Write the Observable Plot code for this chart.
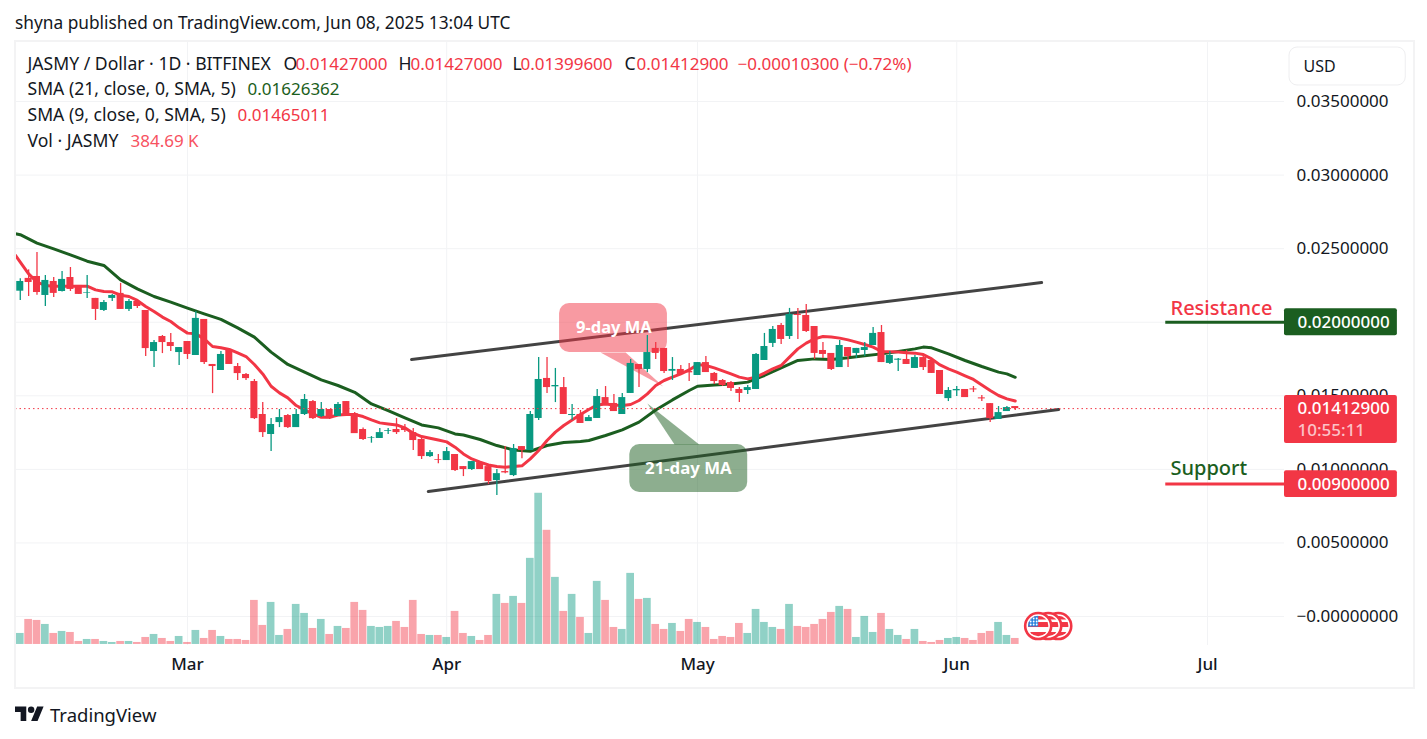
<!DOCTYPE html>
<html>
<head>
<meta charset="utf-8">
<script src="https://cdn.jsdelivr.net/npm/d3@7"></script>
<script src="https://cdn.jsdelivr.net/npm/@observablehq/plot@0.6"></script>
<style>
html,body{margin:0;padding:0;background:#fff;overflow:hidden;width:1427px;height:739px}
body{position:relative;font-family:"Noto Sans",sans-serif;color:#131722}
#head{height:41px;line-height:45px;padding-left:15px;font-size:17.3px;box-sizing:border-box;white-space:nowrap}
#chart{height:645px}
#frame{position:absolute;left:14px;top:40px;width:1397px;height:645px;border:2px solid #f3f3f4;pointer-events:none}
#foot{position:absolute;left:15px;top:700px;height:28px;display:flex;align-items:center}
#foot span{font-size:18.5px;margin-left:6px;margin-top:0}
</style>
</head>
<body>
<div id="head">shyna published on TradingView.com, Jun 08, 2025 13:04 UTC</div>
<div id="chart"></div>
<div id="frame"></div>
<div id="foot"><svg width="29" height="23" viewBox="0 0 36 28"><path fill="#131722" d="M14 22H7V11H0V4h14v18zM28 22h-8l7.5-18h8L28 22z"/><circle fill="#131722" cx="20" cy="8" r="4"/></svg><span>TradingView</span></div>
<script>
// Daily bars, first bar is 2025-02-09 (20 days before 1 March), last is 2025-06-08
const open=[.02211,.02298,.02311,.02182,.02277,.02209,.02304,.0225,.02198,.02162,.0208,.02162,.02196,.02087,.02141,.0208,.01801,.01903,.01862,.01794,.01869,.01774,.02019,.01713,.01672,.01808,.01699,.01645,.01597,.01373,.01237,.01318,.01366,.01284,.01373,.01461,.01359,.01407,.01359,.01461,.01379,.01271,.01212,.0121,.01259,.01271,.01278,.0125,.01203,.01087,.01067,.0106,.01101,.01019,.00999,.01046,.01019,.00924,.00985,.00958,.01155,.01128,.01346,.01618,.01561,.01556,.01366,.01373,.01325,.01346,.01488,.01448,.01373,.01516,.01713,.01679,.01822,.01822,.01667,.01679,.01665,.01638,.01726,.01652,.01604,.0159,.01543,.01536,.01543,.0174,.01856,.01978,.01903,.02053,.02046,.01971,.01808,.01788,.01692,.01828,.01788,.01808,.01842,.0193,.0172,.01742,.01747,.01686,.0176,.0174,.01672,.01481,.01534,.01543,.01547,.01486,.01447,.01339,.01393,.01427];
const high=[.02295,.02356,.02474,.02318,.02304,.02345,.02372,.0225,.02318,.02162,.02148,.02189,.02264,.02155,.02155,.0208,.01876,.0191,.01923,.01828,.01869,.02073,.02019,.01713,.01801,.01808,.01719,.01651,.01611,.01454,.01345,.01407,.01373,.01407,.01509,.01468,.01454,.01407,.01454,.01461,.01386,.01282,.01223,.01278,.01278,.01346,.01305,.01278,.0121,.01128,.01101,.01148,.01101,.01019,.01053,.01046,.01019,.00999,.01155,.01169,.01155,.01393,.0176,.0176,.01686,.01624,.01441,.014,.01366,.01543,.01563,.01509,.01516,.01747,.01713,.0191,.01862,.01822,.0176,.01706,.0172,.01726,.01767,.01658,.01611,.01597,.01556,.0157,.01788,.01924,.01971,.01992,.02094,.02094,.02121,.01971,.01862,.01788,.01876,.01828,.01822,.01862,.01964,.01978,.01801,.01754,.01808,.01774,.01774,.01747,.01672,.01556,.01563,.01543,.01563,.01502,.01447,.01427,.01427,.01427];
const low=[.02148,.02175,.02184,.02107,.02168,.02205,.02209,.02189,.02162,.02012,.02073,.02141,.02087,.02073,.02094,.01767,.01692,.01787,.01801,.01706,.01747,.01774,.01713,.01515,.01672,.01713,.01604,.01604,.01339,.01216,.01121,.01284,.01277,.01284,.01366,.01339,.01352,.01339,.01359,.01373,.01243,.01196,.01178,.0121,.01237,.01237,.0125,.01128,.01067,.0108,.01039,.0106,.00985,.00951,.00992,.00999,.00897,.00822,.00971,.00951,.01073,.01128,.01332,.01516,.01454,.01373,.01332,.01312,.01325,.01346,.01434,.01393,.01373,.01516,.01556,.01658,.01747,.01652,.01604,.01638,.01597,.01638,.01658,.01577,.01563,.01529,.01454,.01509,.01543,.0174,.01828,.01849,.01883,.01883,.0193,.01747,.01754,.01672,.01692,.01692,.01754,.01767,.01842,.01726,.01713,.01665,.01713,.01686,.01672,.01652,.01509,.01461,.01495,.01488,.01522,.01461,.01318,.01339,.01393,.013996];
const close=[.02277,.0227,.02202,.02284,.02196,.02291,.02223,.02189,.02202,.02087,.02134,.02182,.02087,.02141,.02107,.01821,.01862,.01862,.01835,.01828,.01781,.02026,.01726,.01699,.01781,.01713,.01651,.01617,.01345,.0125,.01305,.01352,.01284,.01373,.01475,.01345,.01407,.01345,.01441,.01373,.01243,.01203,.01216,.0125,.01264,.0125,.01264,.01196,.01087,.01114,.01062,.01121,.00992,.00999,.01053,.00999,.00917,.00971,.00976,.01141,.01128,.01373,.01611,.01556,.0157,.01373,.01373,.01312,.01352,.01495,.01434,.01393,.01488,.0172,.01679,.01794,.01788,.01665,.01679,.01645,.01656,.01726,.01658,.01597,.0157,.0155,.01516,.01556,.01781,.01835,.01951,.01883,.02053,.02046,.01937,.01788,.01781,.01679,.01842,.01767,.01822,.01828,.01924,.01726,.01774,.01749,.01713,.0176,.01692,.01652,.01509,.01536,.01543,.01488,.0154,.01479,.01345,.01386,.0142,.014129];
const volumeK=[706,1605,1541,1284,706,835,770,192,321,321,192,128,192,192,128,449,642,385,192,513,128,899,385,899,513,321,321,256,2825,1220,2696,578,963,2568,1990,1027,1605,642,1156,1027,2696,2183,1156,1091,1156,1477,1091,2825,642,578,578,449,2119,706,513,256,578,3210,2632,3082,2632,5521,9694,7319,4301,2119,3210,1733,706,4045,2825,1091,963,4558,2889,2953,1284,963,1348,835,1605,1412,1091,321,513,449,1348,706,2247,1412,1091,963,2568,1156,1091,1284,1605,2054,2440,2247,449,1798,770,1990,963,578,321,963,192,128,256,385,449,385,256,706,835,1412,578,385];

// Moving averages: bar number and value
const sma21Bars=[-0.5,0,2,4,6,8,10,12,14,16,18,20,22,24,26,28,30,32,34,36,38,40,42,44,46,48,50,52,53,55,57,59,61,63,65,67,68,70,72,74,76,78,80,81,83,85,87,89,91,93,95,97,99,101,103,105,107,108,109,111,113,115,117,118,119];
const sma21Values=[.02601,.02595,.02538,.02499,.02458,.02415,.02386,.02288,.02227,.02175,.02137,.02096,.02057,.02019,.01962,.01899,.01797,.01713,.01661,.01608,.0157,.01524,.01445,.014,.0135,.01302,.01282,.01241,.01234,.01203,.01162,.01132,.01123,.01162,.01182,.01189,.01196,.0123,.01268,.01321,.01404,.01472,.01536,.01565,.01574,.01581,.01593,.01638,.0169,.0174,.01751,.01747,.01758,.01772,.01785,.01801,.01819,.01831,.01826,.01785,.0174,.01699,.01661,.01649,.01626];
const sma9Bars=[-0.5,0,1,2,3,4,6,8,9,10,11,12,13,14,15,16,17,18,19,20,21,22,23,24,25,26,27,28,29,30,31,32,33,34,35,36,37,38,39,40,41,42,43,44,45,46,47,48,49,50,51,52,53,54,55,56,57,58,59,60,61,62,63,64,65,66,67,68,69,70,71,72,73,74,75,76,77,78,79,80,81,82,83,84,85,86,87,88,89,90,91,92,93,94,95,96,97,98,99,100,101,102,103,104,105,106,107,108,109,110,111,112,113,114,115,116,117,118,119];
const sma9Values=[.02454,.02409,.02329,.02273,.0225,.02245,.02245,.02245,.0222,.02209,.02207,.02184,.02175,.02148,.02107,.02073,.02035,.02005,.01962,.01926,.01921,.01887,.01835,.01826,.01815,.01792,.01767,.01713,.01649,.01565,.0152,.01486,.01434,.01404,.01377,.01354,.01354,.0137,.01373,.01373,.01359,.01336,.01316,.01309,.01302,.01282,.01246,.01223,.01212,.012,.01187,.01151,.01105,.01071,.01049,.0103,.01019,.01015,.01019,.01024,.01071,.01128,.01196,.01253,.01298,.01336,.01373,.01407,.01438,.01445,.01438,.01434,.01441,.01468,.01513,.0157,.01604,.01627,.01649,.01676,.01713,.01706,.0169,.0167,.01649,.01627,.01615,.01627,.01654,.01683,.01706,.01763,.01819,.01858,.01887,.01903,.01899,.01892,.0188,.01865,.01849,.01831,.01801,.01799,.01797,.01792,.0179,.01781,.01751,.0171,.01683,.01661,.01636,.01611,.01574,.01536,.01502,.01479,.01465];

// Trend channel drawn on the chart: day after 1 March and price
const trendLines=[
  {days:[26.8,102.15],prices:[.01747,.0227]},
  {days:[28.8,104.2],prices:[.0085,.01407]}
];
const resistance=.02, support=.009, lastPrice=.014129;
const priceTicks=[0,.005,.01,.015,.02,.025,.03,.035];
const monthTicks=["2025-03-01","2025-04-01","2025-05-01","2025-06-01","2025-07-01"];

const RED="#F23645", GREEN="#089981", DARKGREEN="#1B5E20", INK="#131722", GRID="#f2f3f5";
const MARCH1=Date.UTC(2025,2,1);
const day=n=>new Date(MARCH1+n*864e5);
const bars=open.map((o,i)=>({n:i-20,o,h:high[i],l:low[i],c:close[i],v:volumeK[i],up:close[i]>=o}));
const VOL_BASE=-.0019, VOL_K=1.06e-6; // volume panel sits at the foot of the price scale
const volPrice=k=>VOL_BASE+k*VOL_K;
const toLine=(ds,ps)=>ds.map((d,i)=>({t:day(d),p:ps[i]}));
const line9=sma9Bars.map((b,i)=>({t:day(b-20),p:sma9Values[i]}));
const line21=sma21Bars.map((b,i)=>({t:day(b-20),p:sma21Values[i]}));
line9[0].t=day(-20.57); line21[0].t=day(-20.57);

const label=(t,px,py,o={})=>Plot.text([t],{text:d=>d,frameAnchor:"top-left",dx:px-15,dy:py-41,textAnchor:"start",lineAnchor:"middle",fontSize:17,fill:INK,...o});
const poly=(pts,fill)=>Plot.line(pts.map(([d,p])=>({t:day(d),p})),{x:"t",y:"p",fill,fillOpacity:.5,stroke:"none"});
const box=(x1,x2,y1,y2,fill,o={})=>Plot.rect([0],{x1:()=>day(x1),x2:()=>day(x2),y1:()=>y1,y2:()=>y2,fill,...o});
const LABEL_SIZE=17.6;

function flags(index,{x,y}){
  const ns="http://www.w3.org/2000/svg";
  const g=d3.select(document.createElementNS(ns,"g"));
  const cy=y(-.00068);
  [104.2,103,101.8].forEach((d,k)=>{
    const cx=x(day(d)), id="flagclip"+k;
    const s=g.append("g").attr("transform",`translate(${cx},${cy})`);
    s.append("clipPath").attr("id",id).append("circle").attr("r",10.2);
    s.append("circle").attr("r",13).attr("fill","#fff").attr("stroke",RED).attr("stroke-width",2.6);
    const f=s.append("g").attr("clip-path",`url(#${id})`);
    f.append("rect").attr("x",-11).attr("y",-11).attr("width",22).attr("height",22).attr("fill","#fff");
    [[-10,-6.5],[-4,1],[6,11]].forEach(([a,b])=>f.append("rect").attr("x",-11).attr("y",a).attr("width",22).attr("height",b-a).attr("fill",RED));
    f.append("rect").attr("x",-11).attr("y",-11).attr("width",11).attr("height",11.5).attr("fill","#2E86DE");
    [-7.5,-4.5,-1.5].forEach(dy=>[-7.5,-4.5,-1.5].forEach(dx=>f.append("circle").attr("cx",dx).attr("cy",dy).attr("r",.9).attr("fill","#fff")));
  });
  return g.node();
}

const chart=Plot.plot({
  width:1427,height:645,
  marginLeft:15,marginRight:143,marginTop:0,marginBottom:41,
  style:{fontFamily:'"Noto Sans",sans-serif',fontSize:"16px",background:"transparent",color:INK},
  x:{type:"utc",domain:[day(-20.57),day(131.2)],range:[15,1284]},
  y:{type:"linear",domain:[-.00197,.03908],range:[604,0]},
  marks:[
    Plot.gridX(monthTicks.map(d=>new Date(d)),{stroke:GRID,strokeOpacity:1}),
    Plot.gridY(priceTicks,{stroke:GRID,strokeOpacity:1}),
    // volume
    Plot.rect(bars,{x1:d=>day(d.n-.46),x2:d=>day(d.n+.46),y1:()=>VOL_BASE,y2:d=>volPrice(d.v),fill:d=>d.up?GREEN:RED,fillOpacity:.45}),
    flags,
    // trend channel
    ...trendLines.map(t=>Plot.line(toLine(t.days,t.prices),{x:"t",y:"p",stroke:"#434343",strokeWidth:3})),
    // call-outs
    poly([[49.4,.01794],[52.4,.01794],[56.9,.01563]],RED),
    box(44.5,57.4,.01794,.02127,RED,{fillOpacity:.5,rx:10}),
    poly([[58.25,.01169],[61.2,.01169],[55,.01448]],DARKGREEN),
    box(52.9,67,.00843,.01169,DARKGREEN,{fillOpacity:.5,rx:10}),
    // moving averages
    Plot.line(line21,{x:"t",y:"p",stroke:DARKGREEN,strokeWidth:3}),
    Plot.line(line9,{x:"t",y:"p",stroke:RED,strokeWidth:3}),
    // candles
    Plot.ruleX(bars,{x:d=>day(d.n),y1:"l",y2:"h",stroke:d=>d.up?GREEN:RED,strokeWidth:1.3}),
    Plot.rect(bars,{x1:d=>day(d.n-.42),x2:d=>day(d.n+.42),y1:"o",y2:"c",fill:d=>d.up?GREEN:RED}),
    Plot.ruleY([lastPrice],{stroke:RED,strokeDasharray:"1.5,3",strokeWidth:1}),
    // axes
    Plot.axisY(priceTicks,{anchor:"right",tickSize:0,tickPadding:12,label:null,fontSize:17,fill:INK,tickFormat:d=>d===0?"−0.00000000":d.toFixed(8)}),
    Plot.axisX(monthTicks.map(d=>new Date(d)),{anchor:"bottom",tickSize:0,tickPadding:12,label:null,fontSize:17,fontWeight:500,fill:INK,tickFormat:d=>d3.utcFormat("%b")(d)}),
    // call-out text
    Plot.text(["9-day MA"],{text:d=>d,x:()=>day(51),y:()=>.01964,fill:"#fff",fontSize:16.5,fontWeight:700}),
    Plot.text(["21-day MA"],{text:d=>d,x:()=>day(59.9),y:()=>.01006,fill:"#fff",fontSize:16.8,fontWeight:700}),
    // support and resistance
    Plot.ruleY([resistance],{x1:()=>day(117),x2:()=>day(131.2),stroke:DARKGREEN,strokeWidth:3}),
    Plot.ruleY([support],{x1:()=>day(117),x2:()=>day(131.2),stroke:RED,strokeWidth:3}),
    label("Resistance",1170,308,{fill:RED,fontSize:20,fontWeight:500}),
    label("Support",1170,468,{fill:DARKGREEN,fontSize:20,fontWeight:500}),
    // price tags
    box(131.2,144.7,resistance-.00091,resistance+.00091,DARKGREEN,{rx:2}),
    box(131.2,144.7,.01176,.01502,RED,{rx:2}),
    box(131.2,144.7,support-.00091,support+.00091,RED,{rx:2}),
    label(resistance.toFixed(8),1297,322.5,{fill:"#fff",fontWeight:500}),
    label(lastPrice.toFixed(8),1297,408,{fill:"#fff",fontWeight:500}),
    label("10:55:11",1297,430,{fill:"#fbc2c7",fontWeight:500}),
    label(support.toFixed(8),1297,484.5,{fill:"#fff",fontWeight:500}),
    // currency button
    box(131.8,145.7,.03609,.03867,"#fff",{stroke:"#eeeef0",rx:8}),
    label("USD",1303,66,{fontSize:16}),
    // legend
    label("JASMY / Dollar · 1D · BITFINEX",27,64,{fontSize:LABEL_SIZE}),
    label("O",283,64,{fontSize:LABEL_SIZE}),label("0.01427000",295,64,{fill:RED}),
    label("H",398,64,{fontSize:LABEL_SIZE}),label("0.01427000",410,64,{fill:RED}),
    label("L",512,64,{fontSize:LABEL_SIZE}),label("0.01399600",520,64,{fill:RED}),
    label("C",624,64,{fontSize:LABEL_SIZE}),label("0.01412900",636,64,{fill:RED}),
    label("−0.00010300 (−0.72%)",737,64,{fill:RED}),
    label("SMA (21, close, 0, SMA, 5)",27,89,{fontSize:LABEL_SIZE}),label("0.01626362",247,89,{fill:DARKGREEN}),
    label("SMA (9, close, 0, SMA, 5)",27,115,{fontSize:LABEL_SIZE}),label("0.01465011",237,115,{fill:RED}),
    label("Vol · JASMY",27,141,{fontSize:LABEL_SIZE}),label("384.69 K",130,141,{fill:"#F7525F"})
  ]
});
document.getElementById("chart").append(chart);
</script>
</body>
</html>
